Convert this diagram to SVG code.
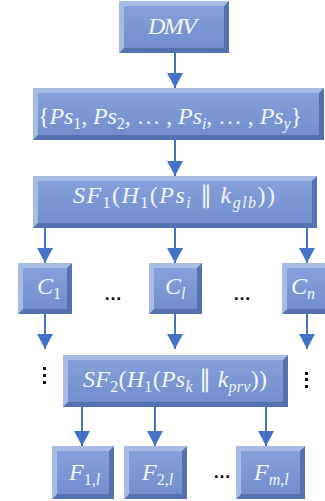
<svg xmlns="http://www.w3.org/2000/svg" width="325" height="501" viewBox="0 0 325 501">
<defs>
<linearGradient id="g" x1="0" y1="0" x2="0" y2="1">
<stop offset="0" stop-color="#85a0da"/>
<stop offset="1" stop-color="#728ecd"/>
</linearGradient>
<marker id="ah" markerUnits="userSpaceOnUse" viewBox="0 0 15 16" refX="15" refY="8" markerWidth="15" markerHeight="16" orient="auto">
<path d="M0,0 L15,8 L0,16 z" fill="#4472c4"/>
</marker>
</defs>
<style>
.o{fill:#5671b0}
.l{fill:#a8bbe5}
.i{fill:url(#g)}
.t{fill:#f3f6fc;font-family:"Liberation Serif",serif;font-size:24px;font-style:italic}
.n{font-style:normal}
.s{font-size:16px}
.c{stroke:#4472c4;stroke-width:2;fill:none;marker-end:url(#ah)}
.d{font-family:"Liberation Sans",sans-serif;font-size:18px;font-weight:bold;fill:#111}
</style>
<rect width="325" height="501" fill="#fff"/>
<g id="connectors">
<line class="c" x1="175" y1="53" x2="175" y2="88"/>
<line class="c" x1="175" y1="140" x2="175" y2="176"/>
<line class="c" x1="45" y1="228" x2="45" y2="263"/>
<line class="c" x1="175" y1="228" x2="175" y2="263"/>
<line class="c" x1="307" y1="228" x2="307" y2="263"/>
<line class="c" x1="45" y1="314" x2="45" y2="349"/>
<line class="c" x1="175" y1="314" x2="175" y2="349"/>
<line class="c" x1="307" y1="314" x2="307" y2="349"/>
<line class="c" x1="82" y1="407" x2="82" y2="446"/>
<line class="c" x1="155" y1="407" x2="155" y2="446"/>
<line class="c" x1="266" y1="407" x2="266" y2="446"/>
</g>
<g id="dmv">
<rect class="o" x="119" y="1" width="110" height="52"/>
<polygon class="l" points="119,1 229,1 224,6 124,6 124,48 119,53"/>
<rect class="i" x="124" y="6" width="100" height="42"/>
<text class="t" x="148" y="34" textLength="49" lengthAdjust="spacing">DMV</text>
</g>
<g id="ps">
<rect class="o" x="33" y="88" width="291" height="52"/>
<polygon class="l" points="33,88 324,88 319,93 38,93 38,135 33,140"/>
<rect class="i" x="38" y="93" width="281" height="42"/>
<text class="t" x="38" y="124" textLength="264" lengthAdjust="spacing"><tspan class="n">{</tspan>Ps<tspan class="n s" dy="5">1</tspan><tspan class="n" dy="-5">, </tspan>Ps<tspan class="n s" dy="5">2</tspan><tspan class="n" dy="-5">, … , </tspan>Ps<tspan class="s" dy="5">i</tspan><tspan class="n" dy="-5">, … , </tspan>Ps<tspan class="s" dy="5">y</tspan><tspan class="n" dy="-5">}</tspan></text>
</g>
<g id="sf1">
<rect class="o" x="33" y="176" width="284" height="52"/>
<polygon class="l" points="33,176 317,176 312,181 38,181 38,223 33,228"/>
<rect class="i" x="38" y="181" width="274" height="42"/>
<text class="t" x="73" y="203" textLength="202" lengthAdjust="spacing">SF<tspan class="n s" dy="5">1</tspan><tspan class="n" dy="-5">(</tspan>H<tspan class="n s" dy="5">1</tspan><tspan class="n" dy="-5">(</tspan>Ps<tspan class="s" dy="5">i</tspan><tspan class="n" dy="-5"> ∥ </tspan>k<tspan class="s" dy="5">glb</tspan><tspan class="n" dy="-5">))</tspan></text>
</g>
<g id="c1">
<rect class="o" x="18" y="263" width="54" height="51"/>
<polygon class="l" points="18,263 72,263 67,268 23,268 23,309 18,314"/>
<rect class="i" x="23" y="268" width="44" height="41"/>
<text class="t" x="37" y="294">C<tspan class="n s" dy="5">1</tspan></text>
</g>
<g id="cl">
<rect class="o" x="149" y="263" width="53" height="51"/>
<polygon class="l" points="149,263 202,263 197,268 154,268 154,309 149,314"/>
<rect class="i" x="154" y="268" width="43" height="41"/>
<text class="t" x="165" y="294">C<tspan class="s" dy="5">l</tspan></text>
</g>
<g id="cn">
<rect class="o" x="282" y="263" width="52" height="51"/>
<polygon class="l" points="282,263 334,263 329,268 287,268 287,309 282,314"/>
<rect class="i" x="287" y="268" width="42" height="41"/>
<text class="t" x="291" y="294">C<tspan class="s" dy="5">n</tspan></text>
</g>
<g id="sf2">
<rect class="o" x="63" y="355" width="225" height="52"/>
<polygon class="l" points="63,355 288,355 283,360 68,360 68,402 63,407"/>
<rect class="i" x="68" y="360" width="215" height="42"/>
<text class="t" x="83" y="387" textLength="184" lengthAdjust="spacing">SF<tspan class="n s" dy="5">2</tspan><tspan class="n" dy="-5">(</tspan>H<tspan class="n s" dy="5">1</tspan><tspan class="n" dy="-5">(</tspan>Ps<tspan class="s" dy="5">k</tspan><tspan class="n" dy="-5"> ∥ </tspan>k<tspan class="s" dy="5">prv</tspan><tspan class="n" dy="-5">))</tspan></text>
</g>
<g id="f1">
<rect class="o" x="52" y="446" width="62" height="53"/>
<polygon class="l" points="52,446 114,446 109,451 57,451 57,494 52,499"/>
<rect class="i" x="57" y="451" width="52" height="43"/>
<text class="t" x="69" y="480">F<tspan class="n s" dy="5">1,</tspan><tspan class="s">l</tspan></text>
</g>
<g id="f2">
<rect class="o" x="124" y="446" width="63" height="53"/>
<polygon class="l" points="124,446 187,446 182,451 129,451 129,494 124,499"/>
<rect class="i" x="129" y="451" width="53" height="43"/>
<text class="t" x="142" y="480">F<tspan class="n s" dy="5">2,</tspan><tspan class="s">l</tspan></text>
</g>
<g id="fm">
<rect class="o" x="236" y="446" width="69" height="53"/>
<polygon class="l" points="236,446 305,446 300,451 241,451 241,494 236,499"/>
<rect class="i" x="241" y="451" width="59" height="43"/>
<text class="t" x="254" y="480">F<tspan class="s" dy="5">m</tspan><tspan class="n s">,</tspan><tspan class="s">l</tspan></text>
</g>
<g id="ellipses">
<text class="d" x="104" y="300">…</text>
<text class="d" x="233" y="300">…</text>
<text class="d" x="213" y="478">…</text>
<rect x="43" y="367" width="3" height="3" fill="#111"/>
<rect x="43" y="374" width="3" height="3" fill="#111"/>
<rect x="43" y="381" width="3" height="3" fill="#111"/>
<rect x="305" y="372" width="3" height="3" fill="#111"/>
<rect x="305" y="378" width="3" height="3" fill="#111"/>
<rect x="305" y="385" width="3" height="3" fill="#111"/>
</g>
</svg>
